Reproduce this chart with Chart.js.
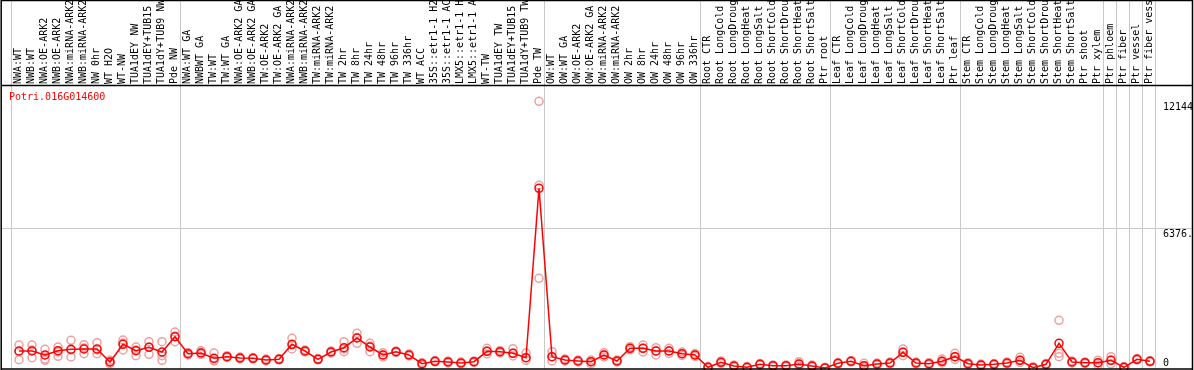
<!DOCTYPE html>
<html>
<head>
<meta charset="utf-8">
<script src="https://cdn.jsdelivr.net/npm/chart.js@4.4.1/dist/chart.umd.min.js"></script>
<style>
  html, body { margin: 0; padding: 0; background: #fff; overflow: hidden; }
  canvas { display: block; }
</style>
</head>
<body>
<canvas id="expr" width="1194" height="370"></canvas>
<script>
var geneName = "Potri.016G014600";

var categories = [
  "NWA:WT", "NWB:WT", "NWA:OE-ARK2", "NWB:OE-ARK2", "NWA:miRNA-ARK2", "NWB:miRNA-ARK2", "NW 0hr", "WT H2O", "WT-NW", "TUA1dEY NW",
  "TUA1dEY+TUB15 NW", "TUA1dY+TUB9 NW", "Pde NW", "NWA:WT GA", "NWBWT GA", "TW:WT", "TW:WT GA", "NWA:OE-ARK2 GA", "NWB:OE-ARK2 GA", "TW:OE-ARK2",
  "TW:OE-ARK2 GA", "NWA:miRNA-ARK2", "NWB:miRNA-ARK2", "TW:miRNA-ARK2", "TW:miRNA-ARK2", "TW 2hr", "TW 8hr", "TW 24hr", "TW 48hr", "TW 96hr",
  "TW 336hr", "WT ACC", "35S::etr1-1 H2O", "35S::etr1-1 ACC", "LMX5::etr1-1 H2O", "LMX5::etr1-1 ACC", "WT-TW", "TUA1dEY TW", "TUA1dEY+TUB15", "TUA1dY+TUB9 TW",
  "Pde TW", "OW:WT", "OW:WT GA", "OW:OE-ARK2", "OW:OE-ARK2 GA", "OW:miRNA-ARK2", "OW:miRNA-ARK2", "OW 2hr", "OW 8hr", "OW 24hr",
  "OW 48hr", "OW 96hr", "OW 336hr", "Root CTR", "Root LongCold", "Root LongDrought", "Root LongHeat", "Root LongSalt", "Root ShortCold", "Root ShortDrought",
  "Root ShortHeat", "Root ShortSalt", "Ptr root", "Leaf CTR", "Leaf LongCold", "Leaf LongDrought", "Leaf LongHeat", "Leaf LongSalt", "Leaf ShortCold", "Leaf ShortDrought",
  "Leaf ShortHeat", "Leaf ShortSalt", "Ptr leaf", "Stem CTR", "Stem LongCold", "Stem LongDrought", "Stem LongHeat", "Stem LongSalt", "Stem ShortCold", "Stem ShortDrought",
  "Stem ShortHeat", "Stem ShortSalt", "Ptr shoot", "Ptr xylem", "Ptr phloem", "Ptr fiber", "Ptr vessel", "Ptr fiber vessel"
];

// mean expression per sample
var meanValues = [
  774, 774, 592, 788, 852, 865, 865, 273, 1079, 788,
  943, 729, 1425, 651, 683, 442, 515, 455, 442, 364,
  396, 1079, 774, 396, 729, 924, 1366, 956, 592, 742,
  592, 196, 305, 273, 228, 287, 760, 742, 669, 469,
  8183, 515, 364, 319, 287, 592, 319, 897, 897, 774,
  774, 651, 592, 32, 260, 91, 32, 168, 105, 105,
  182, 91, 5, 214, 305, 105, 182, 228, 715, 228,
  196, 305, 515, 196, 137, 168, 228, 351, 14, 168,
  1125, 273, 241, 241, 351, 32, 396, 305
];

// replicates (pale circles)
var rep1 = [
  1047, 1047, 852, 956, 1261, 1061, 1152, 351, 1275, 956,
  1198, 1198, 1639, 706, 788, 683, 560, 501, 478, 410,
  433, 1352, 820, 433, 774, 1198, 1580, 1125, 697, 774,
  638, 250, 342, 319, 273, 319, 897, 797, 879, 683,
  12144, 742, 410, 364, 364, 697, 364, 970, 1047, 924,
  897, 729, 660, 68, 319, 137, 68, 205, 137, 137,
  287, 137, 30, 250, 342, 214, 228, 273, 865, 273,
  241, 410, 669, 241, 182, 205, 273, 487, 59, 205,
  2172, 319, 273, 351, 515, 68, 433, 342
];
var rep2 = [
  742, 820, 410, 729, 820, 911, 820, 273, 1139, 820,
  956, 560, 1457, 651, 706, 351, 515, 455, 442, 364,
  396, 1047, 774, 396, 729, 865, 1389, 1002, 592, 742,
  592, 196, 305, 273, 228, 287, 760, 742, 669, 469,
  8320, 515, 364, 319, 287, 592, 319, 897, 897, 774,
  774, 651, 592, 32, 260, 91, 32, 168, 105, 105,
  182, 91, 5, 214, 305, 105, 182, 228, 715, 228,
  196, 305, 515, 196, 137, 168, 228, 351, 14, 168,
  669, 273, 241, 241, 351, 32, 396, 305
];
var rep3 = [
  378, 469, 351, 533, 501, 651, 651, 196, 820, 560,
  624, 351, 1198, 592, 624, 319, 478, 410, 410, 319,
  364, 865, 729, 364, 683, 742, 1125, 742, 501, 706,
  546, 137, 273, 228, 182, 250, 638, 683, 546, 351,
  4085, 319, 319, 273, 196, 501, 273, 820, 729, 592,
  660, 569, 524, 0, 205, 46, 0, 137, 68, 68,
  91, 46, 0, 182, 273, 23, 137, 182, 560, 182,
  150, 228, 387, 150, 91, 137, 182, 250, 0, 137,
  515, 228, 205, 137, 182, 0, 364, 273
];

var yTickValues = [12144, 6376, 0];
var yTickLabels = ["12144", "6376.", "0"];
var yGridValues = [6376];
var yMax = 12752;
// index of the first sample of each column group
var groupStarts = [0, 13, 41, 53, 63, 73, 84, 85, 86, 87, 88];

function toPoints(arr) {
  return arr.map(function (v, i) { return { x: i, y: v }; });
}

var FONT = '10px "DejaVu Sans Mono", "Liberation Mono", monospace';

var framePlugin = {
  id: "frame",
  beforeDatasetsDraw: function (chart) {
    var c = chart.ctx, xs = chart.scales.x, ys = chart.scales.y;
    c.save();
    c.strokeStyle = "#c8c8c8";
    c.lineWidth = 1;
    groupStarts.forEach(function (k) {
      var px = Math.round(xs.getPixelForValue(k - 8 / 13)) + 0.5;
      c.beginPath();
      c.moveTo(px, 0);
      c.lineTo(px, 369);
      c.stroke();
    });
    yGridValues.forEach(function (v) {
      var py = Math.round(ys.getPixelForValue(v)) + 0.5;
      c.beginPath();
      c.moveTo(1, py);
      c.lineTo(1193, py);
      c.stroke();
    });
    c.restore();
  },
  afterDraw: function (chart) {
    var c = chart.ctx, xs = chart.scales.x, ys = chart.scales.y, a = chart.chartArea;
    c.save();
    c.font = FONT;
    c.fillStyle = "#000";
    c.textAlign = "left";
    c.textBaseline = "middle";
    categories.forEach(function (lab, i) {
      var px = xs.getPixelForValue(i) - 0.5;
      c.save();
      c.translate(px, 84);
      c.rotate(-Math.PI / 2);
      c.fillText(lab, 0, 0);
      c.restore();
    });

    // y tick labels at right
    c.textBaseline = "top";
    yTickValues.forEach(function (v, i) {
      var py = Math.min(ys.getPixelForValue(v) + 1, a.bottom - 10);
      c.fillText(yTickLabels[i], 1163, py);
    });

    // gene name
    c.fillStyle = "#ff0000";
    c.textBaseline = "middle";
    c.fillText(geneName, 9, 97);

    // frame
    c.strokeStyle = "#000";
    c.lineWidth = 1.5;
    c.beginPath();
    c.moveTo(1, 0.5); c.lineTo(1193, 0.5);
    c.moveTo(1, 85.5); c.lineTo(1193, 85.5);
    c.moveTo(1, 369); c.lineTo(1193, 369);
    c.moveTo(1.2, 0); c.lineTo(1.2, 370);
    c.moveTo(1192.5, 0); c.lineTo(1192.5, 370);
    c.stroke();
    c.restore();
  }
};

var repStyle = {
  showLine: false,
  pointStyle: "circle",
  pointRadius: 4,
  pointBorderWidth: 1.5,
  pointBorderColor: "#eea0a0",
  pointBackgroundColor: "rgba(0,0,0,0)",
  clip: false
};

var ctx = document.getElementById("expr").getContext("2d");
var exprChart = new Chart(ctx, {
  type: "line",
  data: {
    datasets: [
      {
        data: toPoints(meanValues),
        borderColor: "#ff0000",
        borderWidth: 1.5,
        tension: 0,
        pointStyle: "circle",
        pointRadius: 4,
        pointBorderWidth: 1.5,
        pointBorderColor: "#ff0000",
        pointBackgroundColor: "rgba(0,0,0,0)",
        clip: false
      },
      Object.assign({ data: toPoints(rep1) }, repStyle),
      Object.assign({ data: toPoints(rep2) }, repStyle),
      Object.assign({ data: toPoints(rep3) }, repStyle)
    ]
  },
  options: {
    responsive: false,
    animation: false,
    events: [],
    layout: { autoPadding: false, padding: { left: 1, right: 2, top: 88, bottom: 2 } },
    scales: {
      x: { type: "linear", display: false, min: -18 / 13, max: -18 / 13 + 1191 / 13 },
      y: { type: "linear", display: false, min: 0, max: yMax }
    },
    plugins: {
      legend: { display: false },
      tooltip: { enabled: false },
      title: { display: false }
    }
  },
  plugins: [framePlugin]
});
</script>
</body>
</html>
